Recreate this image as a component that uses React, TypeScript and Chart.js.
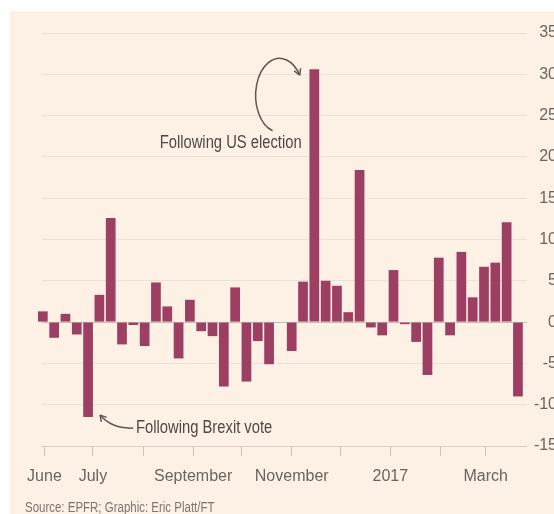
import React, { useEffect, useRef } from 'react';
import { Chart, registerables } from 'chart.js';

Chart.register(...registerables);

// Weekly fund flows, first week ending 31 May 2016 ($bn)
const firstWeekEnding = '2016-05-31';
const weeklyFlows = [
  1.3, -1.9, 1.0, -1.5, -11.5, 3.3, 12.6, -2.7, -0.35, -2.9,
  4.8, 1.9, -4.4, 2.7, -1.1, -1.7, -7.8, 4.2, -7.2, -2.3,
  -5.1, 0, -3.5, 4.9, 30.6, 5.0, 4.4, 1.2, 18.4, -0.65,
  -1.6, 6.3, -0.25, -2.4, -6.4, 7.8, -1.6, 8.5, 3.0, 6.7,
  7.2, 12.1, -9.0,
];

const monthTickDates = [
  '2016-06-01', '2016-07-01', '2016-08-01', '2016-09-01', '2016-10-01',
  '2016-11-01', '2016-12-01', '2017-01-01', '2017-02-01', '2017-03-01',
];
const monthTickLabels = ['June', 'July', '', 'September', '', 'November', '', '2017', '', 'March'];

const yMin = -15;
const yMax = 35;
const yStep = 5;

const brexitIndex = 4;
const usElectionIndex = 24;
const brexitNote = 'Following Brexit vote';
const usNote = 'Following US election';
const sourceNote = 'Source: EPFR; Graphic: Eric Platt/FT';

const DAY = 86400000;
const dayOffset = (d: string) => (Date.parse(d) - Date.parse(firstWeekEnding)) / DAY;
const weekDays = weeklyFlows.map((_, i) => i * 7);
const monthTickDays = monthTickDates.map(dayOffset);

const FONT = "'Liberation Sans', Arial, sans-serif";
const BAR = '#9d3f63';
const BG = '#fdf1e5';
const NOTE = '#4e4844';
const NARROW = 0.82;

function arrowHead(ctx: CanvasRenderingContext2D, tx: number, ty: number, dx: number, dy: number, len = 7) {
  const l = Math.hypot(dx, dy);
  const ux = dx / l, uy = dy / l;
  const a = Math.PI / 6;
  for (const s of [1, -1]) {
    const c = Math.cos(s * a), sn = Math.sin(s * a);
    const rx = -(ux * c - uy * sn), ry = -(ux * sn + uy * c);
    ctx.beginPath();
    ctx.moveTo(tx, ty);
    ctx.lineTo(tx + rx * len, ty + ry * len);
    ctx.stroke();
  }
}

function narrowText(ctx: CanvasRenderingContext2D, text: string, x: number, y: number, align: CanvasTextAlign) {
  ctx.save();
  ctx.translate(x, y);
  ctx.scale(NARROW, 1);
  ctx.textAlign = align;
  ctx.textBaseline = 'middle';
  ctx.fillText(text, 0, 0);
  ctx.restore();
}

const notesPlugin = {
  id: 'notes',
  afterDatasetsDraw(chart: any) {
    const { ctx, scales } = chart;
    const x = scales.x, y = scales.y;
    ctx.save();
    ctx.strokeStyle = '#5d5753';
    ctx.lineWidth = 1.5;
    ctx.fillStyle = NOTE;
    ctx.font = `18px ${FONT}`;

    // US election
    const ux = x.getPixelForValue(weekDays[usElectionIndex]);
    const uy = y.getPixelForValue(weeklyFlows[usElectionIndex]);
    const cx = ux - 34.7, cy = uy + 26, rx = 24, ry = 37;
    const a0 = (107 * Math.PI) / 180, a1 = (327 * Math.PI) / 180;
    ctx.beginPath();
    ctx.ellipse(cx, cy, rx, ry, 0, a0, a1, false);
    ctx.stroke();
    const ex = cx + rx * Math.cos(a1), ey = cy + ry * Math.sin(a1);
    arrowHead(ctx, ex, ey, -rx * Math.sin(a1), ry * Math.cos(a1));
    narrowText(ctx, usNote, ux - 12.7, uy + 74, 'right');

    // Brexit
    const bx = x.getPixelForValue(weekDays[brexitIndex]);
    const by = y.getPixelForValue(weeklyFlows[brexitIndex]);
    ctx.beginPath();
    ctx.moveTo(bx + 45, by + 11);
    ctx.quadraticCurveTo(bx + 24, by + 12, bx + 12, by - 2);
    ctx.stroke();
    arrowHead(ctx, bx + 12, by - 2, -12, -14);
    narrowText(ctx, brexitNote, bx + 48, by + 11, 'left');
    ctx.restore();
  },
};

export default function App() {
  const ref = useRef<HTMLCanvasElement>(null);

  useEffect(() => {
    if (!ref.current) return;
    const chart = new Chart(ref.current, {
      type: 'bar',
      data: {
        datasets: [
          {
            data: weeklyFlows.map((v, i) => ({ x: weekDays[i], y: v })),
            backgroundColor: BAR,
            borderWidth: 0,
            barPercentage: 0.86,
            categoryPercentage: 1,
            clip: false as any,
          },
        ],
      },
      options: {
        responsive: false,
        animation: false,
        layout: { padding: { left: 31.7, right: 13, top: 22, bottom: 0 } },
        plugins: { legend: { display: false }, tooltip: { enabled: false }, title: { display: false } },
        scales: {
          x: {
            type: 'linear',
            offset: false,
            min: -0.7,
            max: 299.6,
            afterBuildTicks: (s: any) => {
              s.ticks = monthTickDays.map((v) => ({ value: v }));
            },
            afterFit: (s: any) => {
              s.height = 68;
            },
            ticks: {
              autoSkip: false,
              maxRotation: 0,
              padding: 11,
              color: '#6a6460',
              font: { family: FONT, size: 16 },
              callback: (v: any) => {
                const i = monthTickDays.indexOf(v);
                return i >= 0 ? monthTickLabels[i] : '';
              },
            },
            grid: { offset: false, drawOnChartArea: false, drawTicks: true, tickLength: 10, color: '#cbc2b9', lineWidth: 1 },
            border: { display: false },
          },
          y: {
            position: 'right',
            min: yMin,
            max: yMax,
            afterFit: (s: any) => {
              s.width = 30;
            },
            ticks: {
              stepSize: yStep,
              crossAlign: 'far',
              padding: 4,
              color: '#6a6460',
              font: { family: FONT, size: 16 },
            },
            grid: {
              drawTicks: false,
              color: (c: any) => (c.tick && c.tick.value === 0 ? '#c4bbb2' : c.tick && c.tick.value === yMin ? '#d6cdc4' : '#ebe1d7'),
              lineWidth: 1,
            },
            border: { display: false },
          },
        },
      },
      plugins: [notesPlugin],
    });
    return () => chart.destroy();
  }, []);

  return (
    <div
      style={{
        position: 'absolute',
        left: 10,
        top: 11,
        width: 544,
        height: 503,
        overflow: 'hidden',
        background: BG,
      }}
    >
      <canvas ref={ref} width={560} height={503} style={{ display: 'block' }} />
      <div
        style={{
          position: 'absolute',
          left: 15,
          top: 488,
          fontFamily: FONT,
          fontSize: 14,
          color: '#7d7670',
          whiteSpace: 'nowrap',
          transform: `scaleX(${NARROW})`,
          transformOrigin: 'left center',
        }}
      >
        {sourceNote}
      </div>
    </div>
  );
}
